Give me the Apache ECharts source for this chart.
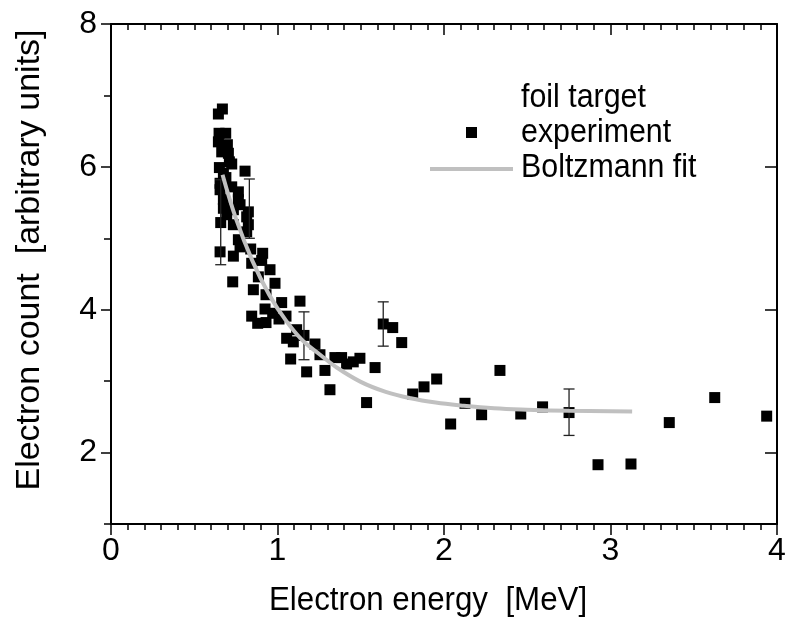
<!DOCTYPE html>
<html>
<head>
<meta charset="utf-8">
<script src="https://cdn.jsdelivr.net/npm/echarts@6/dist/echarts.min.js"></script>
<style>
  html, body { margin: 0; padding: 0; background: #fff; }
  #chart { width: 787px; height: 620px; }
</style>
</head>
<body>
<div id="chart"></div>
<script>
// Measured electron spectrum (foil target)
const energy = [
  0.669, 0.645, 0.649, 0.689, 0.645, 0.699, 0.665, 0.705, 0.711, 0.725,
  0.651, 0.805, 0.675, 0.690, 0.655, 0.655, 0.725, 0.765, 0.675, 0.765,
  0.775, 0.675, 0.735, 0.825, 0.695, 0.815, 0.659, 0.735, 0.825, 0.815,
  0.765, 0.775, 0.839, 0.655, 0.911, 0.735, 0.845, 0.905, 0.955, 0.885,
  0.731, 0.985, 0.855, 0.931, 1.025, 1.135, 0.925, 0.845, 0.881, 0.931,
  0.971, 1.009, 1.051, 1.115, 1.055, 1.095, 1.159, 1.225, 1.255, 1.079,
  1.175, 1.285, 1.345, 1.385, 1.415, 1.455, 1.495, 1.586, 1.315, 1.535,
  1.635, 1.692, 1.746, 1.812, 1.880, 1.956, 2.040, 2.126, 2.226, 2.336,
  2.461, 2.592, 2.751, 2.925, 3.123, 3.353, 3.626, 3.938
];
const counts = [
  6.81, 6.74, 6.47, 6.47, 6.35, 6.31, 6.21, 6.19, 6.07, 6.04,
  5.99, 5.94, 5.91, 5.85, 5.77, 5.68, 5.72, 5.65, 5.54, 5.54,
  5.47, 5.42, 5.40, 5.37, 5.33, 5.30, 5.22, 5.19, 5.19, 5.09,
  4.98, 4.88, 4.85, 4.81, 4.79, 4.75, 4.65, 4.69, 4.56, 4.46,
  4.39, 4.37, 4.28, 4.21, 4.10, 4.12, 4.01, 3.91, 3.81, 3.82,
  3.95, 3.87, 3.91, 3.72, 3.60, 3.55, 3.64, 3.52, 3.37, 3.31,
  3.13, 3.15, 3.33, 3.33, 3.24, 3.27, 3.32, 3.19, 2.88, 2.70,
  3.80, 3.75, 3.54, 2.82, 2.92, 3.03, 2.40, 2.69, 2.53, 3.15,
  2.54, 2.64, 2.56, 1.83, 1.84, 2.42, 2.77, 2.51
];

// Error bars: energy, lower and upper bound
const errEnergy = [0.659, 0.831, 1.159, 1.635, 2.751];
const errLow    = [4.63, 5.00, 3.30, 3.49, 2.24];
const errHigh   = [5.82, 5.83, 3.97, 4.11, 2.89];

// Boltzmann fit curve samples
const fitEnergy = [0.67, 0.75, 0.85, 0.95, 1.05, 1.15, 1.25, 1.35, 1.50, 1.65, 1.80, 1.95, 2.10, 2.30, 2.50, 2.75, 3.13];
const fitCounts = [5.89, 5.28, 4.68, 4.21, 3.85, 3.57, 3.38, 3.20, 2.99, 2.85, 2.76, 2.70, 2.66, 2.62, 2.60, 2.585, 2.575];

// Axis tick labels
const xTickLabels = [0, 1, 2, 3, 4];
const yTickLabels = [2, 4, 6, 8];

const FONT = '"Liberation Sans", Arial, Helvetica, sans-serif';

const chart = echarts.init(document.getElementById('chart'), null, { renderer: 'canvas' });

const axisLineStyle = { color: '#000', width: 2 };
const tickLineStyle = { color: '#000', width: 1.5 };

const option = {
  backgroundColor: '#fff',
  animation: false,
  grid: { left: 111, right: 10, top: 24, bottom: 96, containLabel: false, outerBoundsMode: 'none' },
  xAxis: [
    {
      type: 'value', min: xTickLabels[0], max: xTickLabels[xTickLabels.length - 1], interval: 1,
      position: 'bottom',
      axisLine: { show: true, onZero: false, lineStyle: axisLineStyle },
      axisTick: { show: true, inside: false, length: 11, lineStyle: tickLineStyle },
      minorTick: { show: true, splitNumber: 10, length: 6, lineStyle: tickLineStyle },
      splitLine: { show: false },
      axisLabel: { show: true, margin: 11, fontSize: 32, color: '#000', fontFamily: FONT }
    },
    {
      type: 'value', min: xTickLabels[0], max: xTickLabels[xTickLabels.length - 1], interval: 1,
      position: 'top',
      axisLine: { show: true, onZero: false, lineStyle: axisLineStyle },
      axisTick: { show: true, inside: true, length: 11, lineStyle: tickLineStyle },
      minorTick: { show: true, splitNumber: 10, length: 6, lineStyle: tickLineStyle },
      splitLine: { show: false },
      axisLabel: { show: false }
    }
  ],
  yAxis: [
    {
      type: 'value', min: 1, max: 8, interval: 1, position: 'left',
      axisLine: { show: true, onZero: false, lineStyle: axisLineStyle },
      axisTick: { show: true, inside: false, length: 10, customValues: yTickLabels, lineStyle: tickLineStyle },
      splitLine: { show: false },
      axisLabel: { show: true, customValues: yTickLabels, margin: 14, fontSize: 32, color: '#000', fontFamily: FONT }
    },
    {
      type: 'value', min: 1, max: 8, interval: 1, position: 'left',
      axisLine: { show: false },
      axisTick: { show: true, inside: false, length: 5, lineStyle: tickLineStyle },
      splitLine: { show: false },
      axisLabel: { show: false }
    },
    {
      type: 'value', min: 1, max: 8, interval: 1, position: 'right',
      axisLine: { show: true, onZero: false, lineStyle: axisLineStyle },
      axisTick: { show: true, inside: true, length: 12, customValues: yTickLabels, lineStyle: tickLineStyle },
      splitLine: { show: false },
      axisLabel: { show: false }
    },
    {
      type: 'value', min: 1, max: 8, interval: 1, position: 'right',
      axisLine: { show: false },
      axisTick: { show: true, inside: true, length: 7, lineStyle: tickLineStyle },
      splitLine: { show: false },
      axisLabel: { show: false }
    }
  ],
  series: [
    {
      name: 'experiment',
      type: 'scatter',
      xAxisIndex: 0, yAxisIndex: 0,
      symbol: 'rect',
      symbolSize: 11,
      itemStyle: { color: '#000', opacity: 1 },
      data: energy.map((e, i) => [e, counts[i]]),
      z: 2
    },
    {
      name: 'error',
      type: 'custom',
      xAxisIndex: 0, yAxisIndex: 0,
      data: errEnergy.map((e, i) => [e, errLow[i], errHigh[i]]),
      encode: { x: 0, y: [1, 2] },
      renderItem: function (params, api) {
        const x = api.value(0);
        const top = api.coord([x, api.value(2)]);
        const bot = api.coord([x, api.value(1)]);
        const half = 5.5;
        const st = { stroke: '#222', lineWidth: 1.3 };
        return {
          type: 'group',
          children: [
            { type: 'line', shape: { x1: top[0], y1: top[1], x2: bot[0], y2: bot[1] }, style: st },
            { type: 'line', shape: { x1: top[0] - half, y1: top[1], x2: top[0] + half, y2: top[1] }, style: st },
            { type: 'line', shape: { x1: bot[0] - half, y1: bot[1], x2: bot[0] + half, y2: bot[1] }, style: st }
          ]
        };
      },
      z: 3
    },
    {
      name: 'Boltzmann fit',
      type: 'line',
      xAxisIndex: 0, yAxisIndex: 0,
      smooth: 0.4,
      showSymbol: false,
      symbol: 'none',
      lineStyle: { color: '#c0c0c0', width: 4 },
      data: fitEnergy.map((e, i) => [e, fitCounts[i]]),
      z: 4
    }
  ],
  graphic: [
    // Axis titles
    {
      type: 'text', x: 428, y: 601, scaleX: 0.92,
      style: { text: 'Electron energy  [MeV]', font: '34px ' + FONT, fill: '#000', align: 'center', verticalAlign: 'middle' }
    },
    {
      type: 'text', x: 30, y: 260, rotation: Math.PI / 2,
      style: { text: 'Electron count  [arbitrary units]', font: '34px ' + FONT, fill: '#000', align: 'center', verticalAlign: 'middle' }
    },
    // Legend
    {
      type: 'text', x: 521, y: 98, scaleX: 0.92,
      style: { text: 'foil target', font: '33px ' + FONT, fill: '#000', align: 'left', verticalAlign: 'middle' }
    },
    { type: 'rect', shape: { x: 466, y: 127, width: 11, height: 11 }, style: { fill: '#000' } },
    {
      type: 'text', x: 521, y: 133, scaleX: 0.92,
      style: { text: 'experiment', font: '33px ' + FONT, fill: '#000', align: 'left', verticalAlign: 'middle' }
    },
    { type: 'line', shape: { x1: 430, y1: 169, x2: 513, y2: 169 }, style: { stroke: '#c0c0c0', lineWidth: 4 } },
    {
      type: 'text', x: 521, y: 168, scaleX: 0.92,
      style: { text: 'Boltzmann fit', font: '33px ' + FONT, fill: '#000', align: 'left', verticalAlign: 'middle' }
    }
  ]
};

chart.setOption(option);
</script>
</body>
</html>
